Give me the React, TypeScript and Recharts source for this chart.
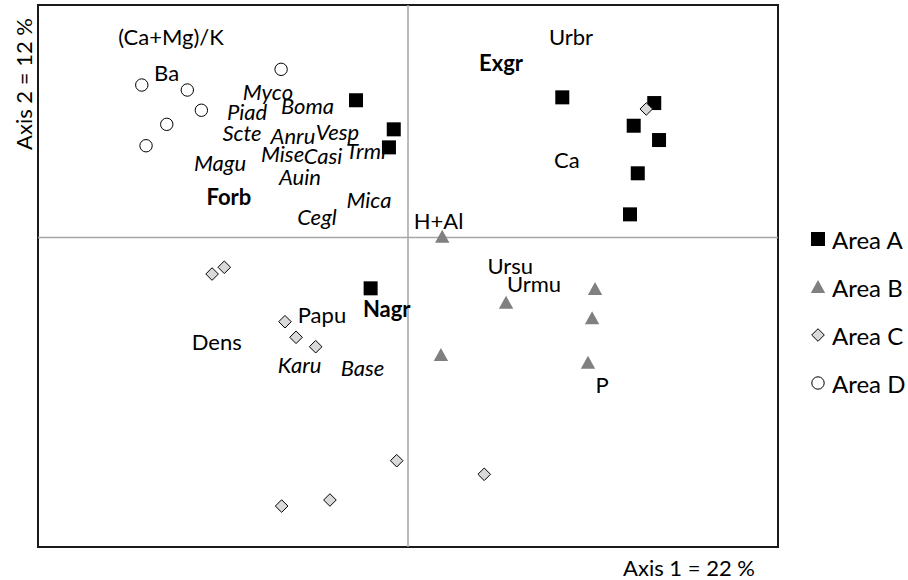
import React from "react";
import {
    ScatterChart,
    Scatter,
    XAxis,
    YAxis,
    ReferenceLine,
    ReferenceArea,
    Legend,
    Customized,
} from "recharts";

const FONT = "Lato, 'Open Sans', sans-serif";
const FONT_SIZE = 22;

// Sample scores on axis 1 / axis 2
const areaAx = [-0.281, -0.077, -0.103, 0.834, 1.331, 1.22, 1.357, 1.242, 1.2, -0.202];
const areaAy = [1.181, 0.931, 0.776, 1.206, 1.157, 0.962, 0.839, 0.553, 0.2, -0.436];

const areaBx = [0.185, 1.011, 0.53, 0.995, 0.178, 0.973];
const areaBy = [0.008, -0.442, -0.56, -0.694, -1.009, -1.076];

const areaCx = [1.288, -1.059, -0.993, -0.665, -0.605, -0.499, -0.061, -0.422, -0.683, 0.412];
const areaCy = [1.106, -0.313, -0.255, -0.723, -0.857, -0.938, -1.918, -2.256, -2.308, -2.035];

const areaDx = [-0.686, -1.439, -1.193, -1.117, -1.304, -1.416];
const areaDy = [1.447, 1.312, 1.269, 1.095, 0.974, 0.79];

// Species (italic)
const speciesNames = ["Myco", "Boma", "Piad", "Scte", "Anru", "Vesp", "Mise", "Casi", "Trml", "Magu", "Auin", "Mica", "Cegl", "Karu", "Base"];
const speciesX = [-0.757, -0.543, -0.87, -0.897, -0.622, -0.381, -0.678, -0.459, -0.227, -1.016, -0.584, -0.211, -0.492, -0.586, -0.246];
const speciesY = [1.255, 1.132, 1.083, 0.905, 0.882, 0.911, 0.719, 0.71, 0.753, 0.647, 0.524, 0.332, 0.18, -1.087, -1.115];

// Functional groups (bold)
const groupNames = ["Forb", "Exgr", "Nagr"];
const groupX = [-0.968, 0.503, -0.115];
const groupY = [0.352, 1.504, -0.611];

// Environmental variables
const varNames = ["(Ca+Mg)/K", "Ba", "Urbr", "Ca", "H+Al", "Papu", "Dens", "Ursu", "Urmu", "P"];
const varX = [-1.281, -1.305, 0.881, 0.859, 0.165, -0.465, -1.034, 0.553, 0.681, 1.049];
const varY = [1.727, 1.418, 1.727, 0.673, 0.151, -0.657, -0.895, -0.236, -0.393, -1.267];

const toPoints = (xs: number[], ys: number[]) => xs.map((x, i) => ({ x, y: ys[i] }));

const labelData = [
    ...speciesNames.map((name, i) => ({ name, x: speciesX[i], y: speciesY[i], style: "italic" })),
    ...groupNames.map((name, i) => ({ name, x: groupX[i], y: groupY[i], style: "bold" })),
    ...varNames.map((name, i) => ({ name, x: varX[i], y: varY[i], style: "normal" })),
];

const SquareDot = ({ cx, cy }: any) => <rect x={cx - 7} y={cy - 7} width={14} height={14} fill="#000" />;
const TriangleDot = ({ cx, cy }: any) => (
    <path d={`M${cx},${cy - 7} L${cx + 7.2},${cy + 6} L${cx - 7.2},${cy + 6} Z`} fill="#808080" />
);
const DiamondDot = ({ cx, cy }: any) => (
    <path
        d={`M${cx},${cy - 6.3} L${cx + 6.3},${cy} L${cx},${cy + 6.3} L${cx - 6.3},${cy} Z`}
        fill="#d9d9d9"
        stroke="#000"
        strokeWidth={1}
    />
);
const CircleDot = ({ cx, cy }: any) => <circle cx={cx} cy={cy} r={6.2} fill="#fff" stroke="#000" strokeWidth={1} />;

const LabelText = ({ cx, cy, payload }: any) => (
    <text
        x={cx}
        y={cy}
        textAnchor="middle"
        dominantBaseline="central"
        fontFamily={FONT}
        fontSize={FONT_SIZE}
        fontStyle={payload.style === "italic" ? "italic" : "normal"}
        fontWeight={payload.style === "bold" ? 700 : 400}
        fill="#000"
    >
        {payload.name}
    </text>
);

const legendIcons: Record<string, React.ReactNode> = {
    "Area A": <SquareDot cx={8} cy={8} />,
    "Area B": <TriangleDot cx={8} cy={8} />,
    "Area C": <DiamondDot cx={8} cy={8} />,
    "Area D": <CircleDot cx={8} cy={8} />,
};

const AreaLegend = ({ payload }: any) => (
    <div style={{ fontFamily: FONT, fontSize: 24, color: "#000" }}>
        {(payload || [])
            .filter((entry: any) => legendIcons[entry.value])
            .map((entry: any) => (
                <div key={entry.value} style={{ display: "flex", alignItems: "center", height: 48 }}>
                    <svg width={16} height={16} style={{ marginRight: 6 }}>
                        {legendIcons[entry.value]}
                    </svg>
                    <span>{entry.value}</span>
                </div>
            ))}
    </div>
);

const AxisTitles = () => (
    <g fontFamily={FONT} fontSize={FONT_SIZE} fill="#000">
        <text x={689} y={567} textAnchor="middle" dominantBaseline="central">
            Axis 1 = 22 %
        </text>
        <text x={23} y={84} textAnchor="middle" dominantBaseline="central" transform="rotate(-90 23 84)">
            Axis 2 = 12 %
        </text>
    </g>
);

export default function App() {
    return (
        <div style={{ position: "absolute", left: 0, top: 0 }}>
            <ScatterChart width={908} height={580} margin={{ top: 5, right: 130, bottom: 33, left: 38 }}>
                <XAxis type="number" dataKey="x" domain={[-2, 2]} hide />
                <YAxis type="number" dataKey="y" domain={[-2.66, 2]} hide />
                <ReferenceLine x={0} stroke="#a6a6a6" strokeWidth={1.5} />
                <ReferenceLine y={0} stroke="#a6a6a6" strokeWidth={1.5} />
                <ReferenceArea
                    x1={-2}
                    x2={2}
                    y1={-2.66}
                    y2={2}
                    fill="none"
                    fillOpacity={0}
                    stroke="#1a1a1a"
                    strokeWidth={2}
                    ifOverflow="visible"
                />
                <Scatter name="labels" data={labelData} shape={LabelText} legendType="none" isAnimationActive={false} />
                <Scatter name="Area A" data={toPoints(areaAx, areaAy)} shape={SquareDot} fill="#000" isAnimationActive={false} />
                <Scatter name="Area B" data={toPoints(areaBx, areaBy)} shape={TriangleDot} fill="#808080" isAnimationActive={false} />
                <Scatter name="Area C" data={toPoints(areaCx, areaCy)} shape={DiamondDot} fill="#d9d9d9" isAnimationActive={false} />
                <Scatter name="Area D" data={toPoints(areaDx, areaDy)} shape={CircleDot} fill="#fff" isAnimationActive={false} />
                <Legend
                    layout="vertical"
                    align="center"
                    verticalAlign="middle"
                    content={AreaLegend}
                    wrapperStyle={{ left: 810, top: 215, width: 98 }}
                />
                <Customized component={AxisTitles} />
            </ScatterChart>
        </div>
    );
}
